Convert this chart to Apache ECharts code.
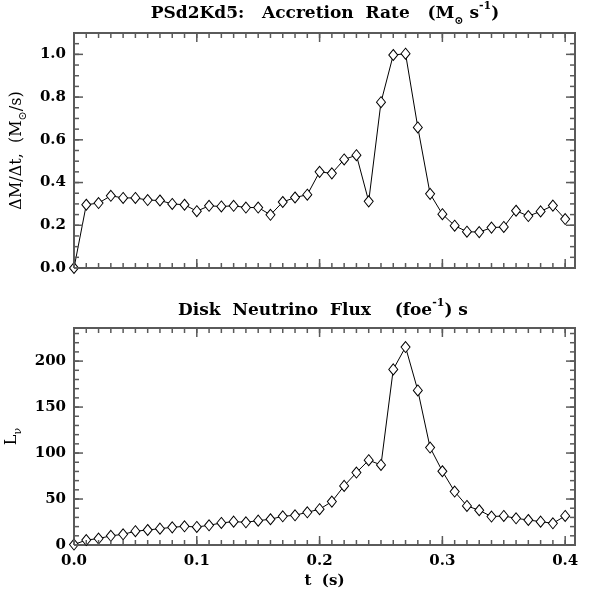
<!DOCTYPE html>
<html>
<head>
<meta charset="utf-8">
<script src="https://cdn.jsdelivr.net/npm/echarts@6/dist/echarts.min.js"></script>
<style>html,body{margin:0;padding:0;background:#fff}#c{width:596px;height:598px}</style>
</head>
<body>
<div id="c"></div>
<script>
// ---- data ----
const times = [0.00,0.01,0.02,0.03,0.04,0.05,0.06,0.07,0.08,0.09,
               0.10,0.11,0.12,0.13,0.14,0.15,0.16,0.17,0.18,0.19,
               0.20,0.21,0.22,0.23,0.24,0.25,0.26,0.27,0.28,0.29,
               0.30,0.31,0.32,0.33,0.34,0.35,0.36,0.37,0.38,0.39,0.40];
const accretionRate = [0.00,0.296,0.304,0.338,0.328,0.328,0.318,0.316,0.300,0.296,
                       0.266,0.291,0.288,0.291,0.283,0.283,0.249,0.309,0.330,0.343,
                       0.450,0.443,0.508,0.528,0.312,0.776,0.997,1.003,0.658,0.347,
                       0.252,0.198,0.170,0.168,0.189,0.192,0.268,0.243,0.265,0.292,0.229];
const neutrinoFlux = [0.5,5.4,7.0,10.0,11.6,15.0,16.3,17.8,19.2,20.3,
                      19.6,21.4,24.0,25.4,24.7,26.5,28.0,31.2,32.3,35.6,
                      38.9,47.2,64.3,78.8,92.2,87.1,191.0,215.3,168.1,106.0,
                      80.2,58.1,42.5,37.8,30.9,31.6,29.0,27.2,25.4,23.6,31.6];
const xTickLabels = ['0.0','0.1','0.2','0.3','0.4'];
const yTickLabelsTop = ['0.0','0.2','0.4','0.6','0.8','1.0'];
const yTickLabelsBottom = ['0','50','100','150','200'];
const xMajorTicks = [0.0,0.1,0.2,0.3,0.4];
const yMajorTicksTop = [0.0,0.2,0.4,0.6,0.8,1.0];
const yMajorTicksBottom = [0,50,100,150,200];
const xRange = [0, 0.408];
const yRangeTop = [0, 1.1];
const yRangeBottom = [0, 236];

// minor tick positions (axis decoration, not data)
function steps(a, b, s) { const r = []; for (let i = 0; a + i * s <= b + 1e-9; i++) r.push(+(a + i * s).toFixed(6)); return r; }
const xMinorTicks = steps(0, 0.40, 0.01);
const yMinorTicksTop = steps(0, 1.1, 0.05);
const yMinorTicksBottom = steps(0, 230, 10);

const AX = '#5a5a5a';
const FONT = 'DejaVu Serif';
const MAJOR_LEN = 9, MINOR_LEN = 5;

const R = {fontFamily: FONT, fontSize: 16, color: '#000', lineHeight: 24};
const RS = {fontFamily: FONT, fontSize: 11, color: '#000', lineHeight: 11, verticalAlign: 'bottom'};
const B = {fontFamily: FONT, fontWeight: 'bold', fontSize: 17, color: '#000', lineHeight: 26};
const BSUB = {fontFamily: FONT, fontWeight: 'bold', fontSize: 11, color: '#000', lineHeight: 12, verticalAlign: 'bottom'};
const BSUP = {fontFamily: FONT, fontWeight: 'bold', fontSize: 11, color: '#000', lineHeight: 12, verticalAlign: 'top'};

function labelFmt(list, digits) {
  return function (v) {
    const s = digits ? v.toFixed(digits) : String(Math.round(v));
    return (list.indexOf(s) >= 0 && Math.abs(+s - v) < 1e-6) ? s : '';
  };
}

function xAx(g, labels) {
  const a = {
    type: 'value', gridIndex: g, position: 'bottom', min: xRange[0], max: xRange[1], interval: 0.1,
    splitLine: {show: false}, axisLine: {show: false}, axisTick: {show: false},
    axisLabel: labels ? {show: true, formatter: labelFmt(xTickLabels, 1), fontFamily: FONT, fontWeight: 'bold',
      fontSize: 15, color: '#000', margin: 9} : {show: false}
  };
  if (labels) {
    a.name = 't  (s)';
    a.nameLocation = 'middle';
    a.nameGap = 29;
    a.nameTextStyle = {fontFamily: FONT, fontWeight: 'bold', fontSize: 15, color: '#000'};
  }
  return a;
}
function yAx(g, range, interval, list, digits, name, gap) {
  return {
    type: 'value', gridIndex: g, position: 'left', min: range[0], max: range[1], interval: interval,
    splitLine: {show: false}, axisLine: {show: false}, axisTick: {show: false},
    axisLabel: {show: true, formatter: labelFmt(list, digits), fontFamily: FONT, fontWeight: 'bold',
      fontSize: 15, color: '#000', margin: 8},
    name: name, nameLocation: 'middle', nameRotate: 90, nameGap: gap,
    nameTextStyle: {rich: {r: R, sub: RS}}
  };
}

// tick marks drawn through the axis scales (api.coord); one series per tick kind
function tickSeries(g, values, isY, len, lo) {
  return {
    type: 'custom', xAxisIndex: g, yAxisIndex: g, silent: true, z: 4,
    encode: {x: 0, y: 1},
    data: values.map(function (v) { return isY ? [xRange[0], v] : [v, lo]; }),
    renderItem: function (params, api) {
      const cs = params.coordSys;
      const p = api.coord([api.value(0), api.value(1)]);
      const st = {stroke: AX, lineWidth: 1.5};
      let s1, s2;
      if (!isY) {
        const b = cs.y + cs.height, t = cs.y;
        s1 = {x1: p[0], y1: b, x2: p[0], y2: b - len};
        s2 = {x1: p[0], y1: t, x2: p[0], y2: t + len};
      } else {
        const l = cs.x, r = cs.x + cs.width;
        s1 = {x1: l, y1: p[1], x2: l + len, y2: p[1]};
        s2 = {x1: r, y1: p[1], x2: r - len, y2: p[1]};
      }
      return {type: 'group', children: [
        {type: 'line', shape: s1, style: st},
        {type: 'line', shape: s2, style: st}
      ]};
    }
  };
}

function lineSeries(g, vals) {
  return {
    type: 'line', xAxisIndex: g, yAxisIndex: g, z: 3,
    data: times.map(function (t, i) { return [t, vals[i]]; }),
    symbol: 'diamond', symbolSize: [9, 11], showAllSymbol: true,
    lineStyle: {color: '#000', width: 1},
    itemStyle: {color: '#fff', borderColor: '#000', borderWidth: 1}
  };
}

const option = {
  animation: false,
  title: [
    {text: '{b|PSd2Kd5:   Accretion  Rate   (M}{sub|\u2299}{b| s}{sup|-1}{b|)}',
     left: 325, top: 1, textAlign: 'center', padding: 0,
     textStyle: {rich: {b: B, sub: BSUB, sup: BSUP}}},
    {text: '{b|Disk  Neutrino  Flux    (foe}{sup|-1}{b|) s}',
     left: 323, top: 298, textAlign: 'center', padding: 0,
     textStyle: {rich: {b: B, sup: BSUP}}}
  ],
  grid: [
    {left: 74, top: 33, width: 501, height: 235, show: true, borderColor: AX, borderWidth: 2, backgroundColor: 'transparent', outerBoundsMode: 'none'},
    {left: 74, top: 328, width: 501, height: 217, show: true, borderColor: AX, borderWidth: 2, backgroundColor: 'transparent', outerBoundsMode: 'none'}
  ],
  xAxis: [xAx(0, false), xAx(1, true)],
  yAxis: [
    yAx(0, yRangeTop, 0.2, yTickLabelsTop, 1, '{r|\u0394M/\u0394t,  (M}{sub|\u2299}{r|/s)}', 40),
    yAx(1, yRangeBottom, 50, yTickLabelsBottom, 0, '{r|L}{sub|\u03BD}', 42)
  ],
  series: [
    tickSeries(0, xMajorTicks, false, MAJOR_LEN, yRangeTop[0]),
    tickSeries(0, xMinorTicks, false, MINOR_LEN, yRangeTop[0]),
    tickSeries(0, yMajorTicksTop, true, MAJOR_LEN, 0),
    tickSeries(0, yMinorTicksTop, true, MINOR_LEN, 0),
    tickSeries(1, xMajorTicks, false, MAJOR_LEN, yRangeBottom[0]),
    tickSeries(1, xMinorTicks, false, MINOR_LEN, yRangeBottom[0]),
    tickSeries(1, yMajorTicksBottom, true, MAJOR_LEN, 0),
    tickSeries(1, yMinorTicksBottom, true, MINOR_LEN, 0),
    lineSeries(0, accretionRate),
    lineSeries(1, neutrinoFlux)
  ]
};
const chart = echarts.init(document.getElementById('c'));
chart.setOption(option);
</script>
</body>
</html>
